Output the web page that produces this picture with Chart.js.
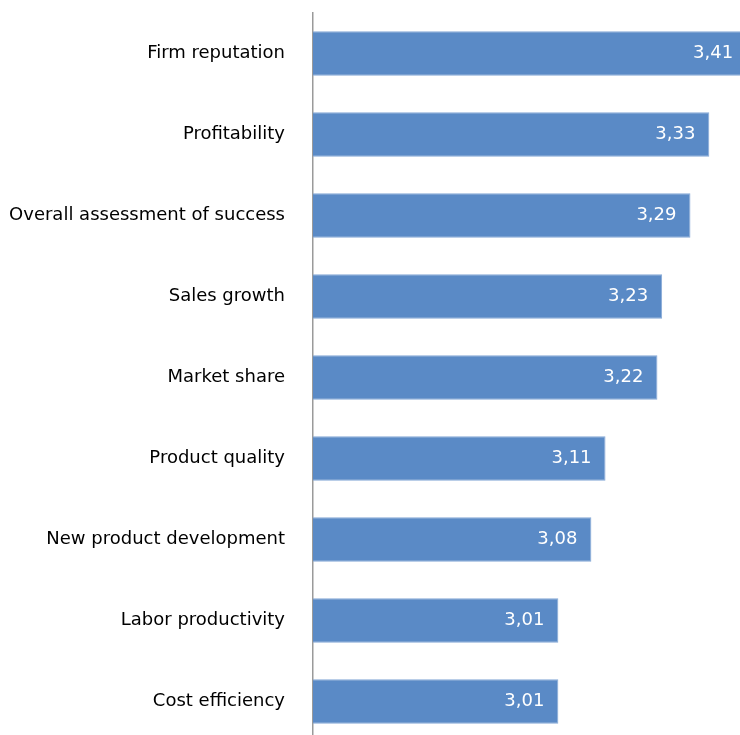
<!DOCTYPE html>
<html lang="en">
<head>
  <meta charset="UTF-8">
  <title>Success measures</title>
  <script src="https://cdn.jsdelivr.net/npm/chart.js"></script>
  <style>
    html, body { margin: 0; padding: 0; background: #fff; overflow: hidden; }
    #wrap { width: 740px; height: 735px; overflow: hidden; }
  </style>
</head>
<body>
  <div id="wrap"><canvas id="successChart" width="740" height="742"></canvas></div>
  <script>
    // Data
    const categories = [
      'Firm reputation',
      'Profitability',
      'Overall assessment of success',
      'Sales growth',
      'Market share',
      'Product quality',
      'New product development',
      'Labor productivity',
      'Cost efficiency'
    ];
    const scores = [3.41, 3.33, 3.29, 3.23, 3.22, 3.11, 3.08, 3.01, 3.01];
    const axisMin = 2.49;
    const axisMax = 3.395;

    // white value labels just inside the bar end
    const valueLabels = {
      id: 'valueLabels',
      afterDatasetsDraw(chart) {
        const ctx = chart.ctx;
        const meta = chart.getDatasetMeta(0);
        ctx.save();
        ctx.fillStyle = '#ffffff';
        ctx.font = '18px "DejaVu Sans"';
        ctx.textAlign = 'right';
        ctx.textBaseline = 'middle';
        meta.data.forEach((bar, i) => {
          const x = Math.min(bar.x - 14, chart.chartArea.right - 2);
          ctx.fillText(scores[i].toFixed(2).replace('.', ','), x, bar.y);
        });
        ctx.restore();
      }
    };

    const ctx = document.getElementById('successChart').getContext('2d');
    new Chart(ctx, {
      type: 'bar',
      data: {
        labels: categories,
        datasets: [{
          data: scores,
          backgroundColor: '#5a8ac6',
          borderColor: '#86a9d6',
          borderWidth: 1,
          borderSkipped: 'left',
          barPercentage: 0.55,
          categoryPercentage: 1
        }]
      },
      options: {
        indexAxis: 'y',
        responsive: false,
        animation: false,
        layout: { padding: { top: 13, right: 0, bottom: 0, left: 0 } },
        plugins: {
          legend: { display: false },
          tooltip: { enabled: false }
        },
        scales: {
          x: {
            display: false,
            min: axisMin,
            max: axisMax
          },
          y: {
            afterFit(scale) {
              scale.width = 313;
              scale.paddingTop = 0;
              scale.paddingBottom = 0;
            },
            grid: { display: false },
            border: { display: true, color: '#9a9a9a', width: 1.5 },
            ticks: {
              color: '#000',
              padding: 20,
              font: { family: '"DejaVu Sans"', size: 18 }
            }
          }
        }
      },
      plugins: [valueLabels]
    });
  </script>
</body>
</html>
